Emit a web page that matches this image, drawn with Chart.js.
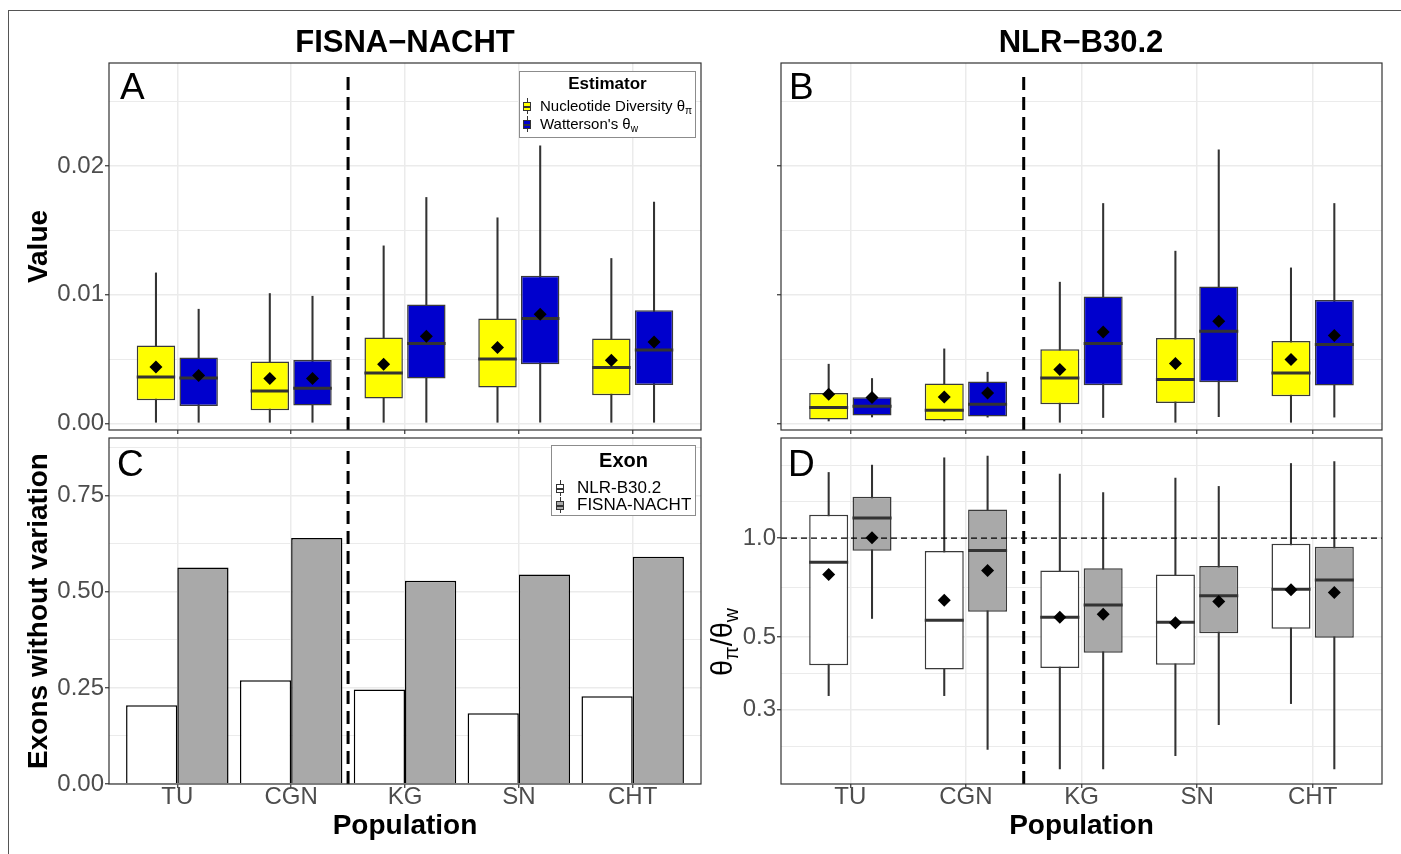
<!DOCTYPE html>
<html>
<head>
<meta charset="utf-8">
<script src="https://cdn.jsdelivr.net/npm/chart.js@4.4.1/dist/chart.umd.min.js"></script>
<style>
  body { margin: 0; background: #fff; }
  #fig { position: relative; width: 1401px; height: 854px; overflow: hidden; font-family: "Liberation Sans", Arial, sans-serif; color: #000; }
  #fig canvas { position: absolute; left: 0; top: 0; }
  .outer { position: absolute; left: 8px; top: 10px; width: 1500px; height: 900px; border-top: 1px solid #555; border-left: 1px solid #555; }
  .head { position: absolute; top: 26px; width: 400px; margin-left: -200px; text-align: center; font-weight: bold; font-size: 31px; line-height: 31px; }
  .tag { position: absolute; font-size: 37px; line-height: 37px; }
  .legend { position: absolute; background: #fff; border: 1px solid #8c8c8c; }
  .legend .ttl { position: absolute; left: 0; right: 0; text-align: center; font-weight: bold; }
  .legend .row { position: absolute; white-space: nowrap; }
  .key { position: absolute; width: 8px; height: 16px; }
  .key i { position: absolute; left: 3.5px; top: 0; width: 1px; height: 16px; background: #333; }
  .key b { position: absolute; left: 0; top: 4px; width: 6px; height: 7px; border: 1px solid #333; }
  .key b::after { content: ''; position: absolute; left: 0; right: 0; top: 3px; height: 1.5px; background: #333; }
  .sub { font-size: 0.68em; position: relative; top: 0.3em; }
  .ytitle { position: absolute; left: 722px; top: 642px; transform: translate(-50%, -50%) rotate(-90deg); font-size: 29px; white-space: nowrap; }
</style>
</head>
<body>
<div id="fig">
  <canvas id="panelA" width="1401" height="854"></canvas>
  <canvas id="panelB" width="1401" height="854"></canvas>
  <canvas id="panelC" width="1401" height="854"></canvas>
  <canvas id="panelD" width="1401" height="854"></canvas>

  <div class="outer"></div>
  <div class="head" style="left:405px">FISNA&minus;NACHT</div>
  <div class="head" style="left:1081px">NLR&minus;B30.2</div>
  <div class="tag" style="left:120px;top:68px">A</div>
  <div class="tag" style="left:789px;top:68px">B</div>
  <div class="tag" style="left:117px;top:445px">C</div>
  <div class="tag" style="left:788px;top:445px">D</div>

  <div class="legend" style="left:519px;top:71px;width:175px;height:65px">
    <div class="ttl" style="top:2px;font-size:17px;line-height:20px">Estimator</div>
    <span class="key" style="left:3px;top:26px"><i></i><b style="background:#ffff00"></b></span>
    <div class="row" style="left:20px;top:25px;font-size:15px;line-height:18px">Nucleotide Diversity &theta;<span class="sub">&pi;</span></div>
    <span class="key" style="left:3px;top:44px"><i></i><b style="background:#0000cd"></b></span>
    <div class="row" style="left:20px;top:43px;font-size:15px;line-height:18px">Watterson's &theta;<span class="sub">w</span></div>
  </div>

  <div class="legend" style="left:551px;top:445px;width:143px;height:69px">
    <div class="ttl" style="top:3px;font-size:20px;line-height:22px">Exon</div>
    <span class="key" style="left:4px;top:34px"><i></i><b style="background:#fff"></b></span>
    <div class="row" style="left:25px;top:32px;font-size:17px;line-height:20px">NLR-B30.2</div>
    <span class="key" style="left:4px;top:51px"><i></i><b style="background:#a9a9a9"></b></span>
    <div class="row" style="left:25px;top:49px;font-size:17px;line-height:20px">FISNA-NACHT</div>
  </div>

  <div class="ytitle">&theta;<span class="sub">&pi;</span>/&theta;<span class="sub">w</span></div>
</div>

<script>
  const populations = ['TU', 'CGN', 'KG', 'SN', 'CHT'];

  // box stats per population: [lower whisker, Q1, median, Q3, upper whisker, mean]
  const fisnaPi = [
    [0.0001, 0.00181, 0.00362, 0.00606, 0.0117, 0.0044],
    [0.0001, 0.00103, 0.00253, 0.00482, 0.0101, 0.0035],
    [0.0001, 0.00194, 0.00393, 0.00668, 0.0138, 0.00461],
    [0.0001, 0.0028, 0.00502, 0.00816, 0.01598, 0.00591],
    [0.0001, 0.0022, 0.00435, 0.0066, 0.01282, 0.00492]
  ];
  const fisnaW = [
    [0.0001, 0.00137, 0.00354, 0.00513, 0.00888, 0.00373],
    [0.0001, 0.0014, 0.00274, 0.00494, 0.00989, 0.0035],
    [0.0001, 0.0035, 0.00622, 0.00925, 0.01756, 0.00678],
    [0.0001, 0.00461, 0.00816, 0.01147, 0.02157, 0.00849],
    [0.0001, 0.003, 0.00572, 0.0088, 0.0172, 0.00634]
  ];
  const nlrPi = [
    [0.0002, 0.00031, 0.00124, 0.00238, 0.00461, 0.00228],
    [0.0002, 0.00023, 0.00103, 0.00311, 0.0058, 0.00207],
    [0.0001, 0.0015, 0.00354, 0.00577, 0.01098, 0.0042],
    [0.0001, 0.0016, 0.00342, 0.00665, 0.01339, 0.00466],
    [0.0001, 0.00212, 0.00393, 0.00642, 0.01209, 0.00497]
  ];
  const nlrW = [
    [0.00051, 0.00062, 0.00134, 0.00204, 0.0035, 0.00202],
    [0.0005, 0.00054, 0.0015, 0.00326, 0.00399, 0.00238],
    [0.00047, 0.00298, 0.00622, 0.00987, 0.01709, 0.00712],
    [0.00054, 0.00321, 0.00717, 0.01065, 0.02126, 0.00795],
    [0.0005, 0.00295, 0.00614, 0.0096, 0.01709, 0.00684]
  ];
  // theta_pi / theta_w
  const nlrRatio = [
    [0.331, 0.410, 0.845, 1.178, 1.586, 0.775],
    [0.331, 0.398, 0.562, 0.913, 1.758, 0.647],
    [0.198, 0.402, 0.574, 0.797, 1.567, 0.574],
    [0.217, 0.411, 0.554, 0.775, 1.524, 0.552],
    [0.313, 0.529, 0.699, 0.961, 1.689, 0.696]
  ];
  const fisnaRatio = [
    [0.569, 0.915, 1.151, 1.337, 1.670, 1.002],
    [0.227, 0.596, 0.917, 1.223, 1.779, 0.797],
    [0.198, 0.447, 0.625, 0.810, 1.378, 0.586],
    [0.270, 0.513, 0.667, 0.822, 1.438, 0.641],
    [0.198, 0.497, 0.745, 0.941, 1.713, 0.683]
  ];
  // share of exons without variation
  const nlrNoVar = [0.205, 0.270, 0.246, 0.184, 0.228];
  const fisnaNoVar = [0.563, 0.640, 0.529, 0.545, 0.591];

  // grid lines and labelled ticks
  const thetaGrid = [0, 0.005, 0.01, 0.015, 0.02, 0.025];
  const thetaLabels = [0, 0.01, 0.02];
  const exonGrid = [0, 0.125, 0.25, 0.375, 0.5, 0.625, 0.75, 0.875];
  const exonLabels = [0, 0.25, 0.5, 0.75];
  const ratioGrid = [0.232, 0.3, 0.387, 0.5, 0.707, 1, 1.29, 1.667];
  const ratioLabels = [0.3, 0.5, 1];

  Chart.defaults.font.family = '"Liberation Sans", Arial, sans-serif';

  const DODGE = 0.1875, SLOT = 0.375, BOXPCT = 0.9;

  function halfBox(ctx) {
    const x = ctx.chart.scales.x;
    return x.getPixelForValue(SLOT * BOXPCT / 2) - x.getPixelForValue(0);
  }

  function boxSets(stats, fill, shift) {
    const pts = k => stats.map((s, i) => ({ x: i + 1 + shift, y: k(s) }));
    return [
      { type: 'bar', data: pts(s => [s[0], s[4]]), backgroundColor: '#333', barThickness: 1.4, grouped: false, order: 3 },
      { type: 'bar', data: pts(s => [s[1], s[3]]), backgroundColor: fill, borderColor: '#3a3a3a', borderWidth: 1.5,
        borderSkipped: false, grouped: false, categoryPercentage: 1, barPercentage: BOXPCT, order: 2 },
      { type: 'line', data: pts(s => s[2]), showLine: false, pointStyle: 'line', pointRadius: halfBox,
        pointBorderColor: '#333', pointBorderWidth: 3, order: 1 },
      { type: 'line', data: pts(s => s[5]), showLine: false, pointStyle: 'rectRot', pointRadius: 6.5,
        pointBackgroundColor: '#000', pointBorderColor: '#000', pointBorderWidth: 0, order: 0 }
    ];
  }

  const panelDecor = {
    id: 'panelDecor',
    afterDatasetsDraw(chart, args, opts) {
      const { ctx, chartArea: a, scales: { x, y } } = chart;
      ctx.save();
      ctx.strokeStyle = '#000';
      if (opts.hline !== undefined) {
        const py = y.getPixelForValue(opts.hline);
        ctx.lineWidth = 1.3;
        ctx.setLineDash([6, 4]);
        ctx.beginPath(); ctx.moveTo(a.left, py); ctx.lineTo(a.right, py); ctx.stroke();
      }
      if (opts.vline !== undefined) {
        const px = x.getPixelForValue(opts.vline);
        ctx.lineWidth = 3;
        ctx.setLineDash([13, 7]);
        ctx.beginPath(); ctx.moveTo(px, a.bottom); ctx.lineTo(px, a.top + 8); ctx.stroke();
      }
      ctx.setLineDash([]);
      ctx.strokeStyle = '#333';
      ctx.lineWidth = 1.2;
      ctx.strokeRect(a.left, a.top, a.right - a.left, a.bottom - a.top);
      ctx.restore();
    }
  };

  const isMajor = c => c.tick && c.tick.major;

  function makePanel(id, p) {
    return new Chart(document.getElementById(id), {
      type: 'bar',
      data: { datasets: p.datasets },
      plugins: [panelDecor],
      options: {
        responsive: false,
        animation: false,
        events: [],
        layout: { padding: { left: p.left - p.yWidth, top: p.top, right: 1401 - p.right, bottom: 854 - p.bottom - p.xHeight } },
        plugins: {
          legend: { display: false },
          tooltip: { enabled: false },
          panelDecor: { vline: 2.5, hline: p.hline }
        },
        scales: {
          x: {
            type: 'linear', min: 0.4, max: 5.6, offset: false, stacked: false,
            afterBuildTicks: s => { s.ticks = populations.map((n, i) => ({ value: i + 1, major: true })); },
            afterFit: s => { s.height = p.xHeight; },
            grid: { offset: false, color: '#ebebeb', lineWidth: 1.5, tickLength: 4, tickColor: '#333', tickWidth: 1.2 },
            border: { display: false },
            ticks: {
              display: p.xLabels, autoSkip: false, maxRotation: 0, padding: -3, color: '#4d4d4d',
              font: { size: 24, lineHeight: 1 },
              callback: v => populations[Math.round(v) - 1]
            },
            title: { display: p.xLabels, text: 'Population', color: '#000', font: { size: 28, weight: 'bold' }, padding: { top: 0, bottom: 11 } }
          },
          y: {
            type: p.log ? 'logarithmic' : 'linear', min: p.ymin, max: p.ymax, stacked: false, beginAtZero: false,
            afterBuildTicks: s => { s.ticks = p.grid.map(v => ({ value: v, major: p.labels.includes(v) })); },
            afterFit: s => { s.width = p.yWidth; },
            grid: {
              color: '#ebebeb', lineWidth: c => isMajor(c) ? 1.5 : 1, tickLength: 4, tickWidth: 1.2,
              tickColor: c => isMajor(c) ? '#333' : 'rgba(0,0,0,0)'
            },
            border: { display: false },
            ticks: {
              display: p.yLabels, autoSkip: false, padding: 1, color: '#4d4d4d', font: { size: 24 },
              callback: (v, i, t) => t[i].major ? v.toFixed(p.digits) : ''
            },
            title: { display: !!p.yTitle, text: p.yTitle, color: '#000', font: { size: 28, weight: 'bold' }, padding: { top: 22, bottom: 0 } }
          }
        }
      }
    });
  }

  makePanel('panelA', {
    datasets: boxSets(fisnaPi, '#ffff00', -DODGE).concat(boxSets(fisnaW, '#0000cd', DODGE)),
    left: 109, top: 63, right: 701, bottom: 430, yWidth: 109, xHeight: 10,
    ymin: -0.0005, ymax: 0.028, grid: thetaGrid, labels: thetaLabels, digits: 2,
    xLabels: false, yLabels: true, yTitle: 'Value'
  });

  makePanel('panelB', {
    datasets: boxSets(nlrPi, '#ffff00', -DODGE).concat(boxSets(nlrW, '#0000cd', DODGE)),
    left: 781, top: 63, right: 1382, bottom: 430, yWidth: 81, xHeight: 10,
    ymin: -0.0005, ymax: 0.028, grid: thetaGrid, labels: thetaLabels, digits: 2,
    xLabels: false, yLabels: false, yTitle: ''
  });

  makePanel('panelC', {
    datasets: [
      { data: nlrNoVar.map((v, i) => ({ x: i + 1, y: v })), backgroundColor: '#ffffff', borderColor: '#000', borderWidth: 1.5,
        categoryPercentage: 0.9, barPercentage: 1 },
      { data: fisnaNoVar.map((v, i) => ({ x: i + 1, y: v })), backgroundColor: '#a9a9a9', borderColor: '#000', borderWidth: 1.5,
        categoryPercentage: 0.9, barPercentage: 1 }
    ],
    left: 109, top: 438, right: 701, bottom: 784, yWidth: 109, xHeight: 70,
    ymin: 0, ymax: 0.9, grid: exonGrid, labels: exonLabels, digits: 2,
    xLabels: true, yLabels: true, yTitle: 'Exons without variation'
  });

  makePanel('panelD', {
    datasets: boxSets(nlrRatio, '#ffffff', -DODGE).concat(boxSets(fisnaRatio, '#a9a9a9', DODGE)),
    left: 781, top: 438, right: 1382, bottom: 784, yWidth: 81, xHeight: 70,
    log: true, ymin: 0.178, ymax: 2.02, grid: ratioGrid, labels: ratioLabels, digits: 1, hline: 1,
    xLabels: true, yLabels: true, yTitle: ''
  });
</script>
</body>
</html>
